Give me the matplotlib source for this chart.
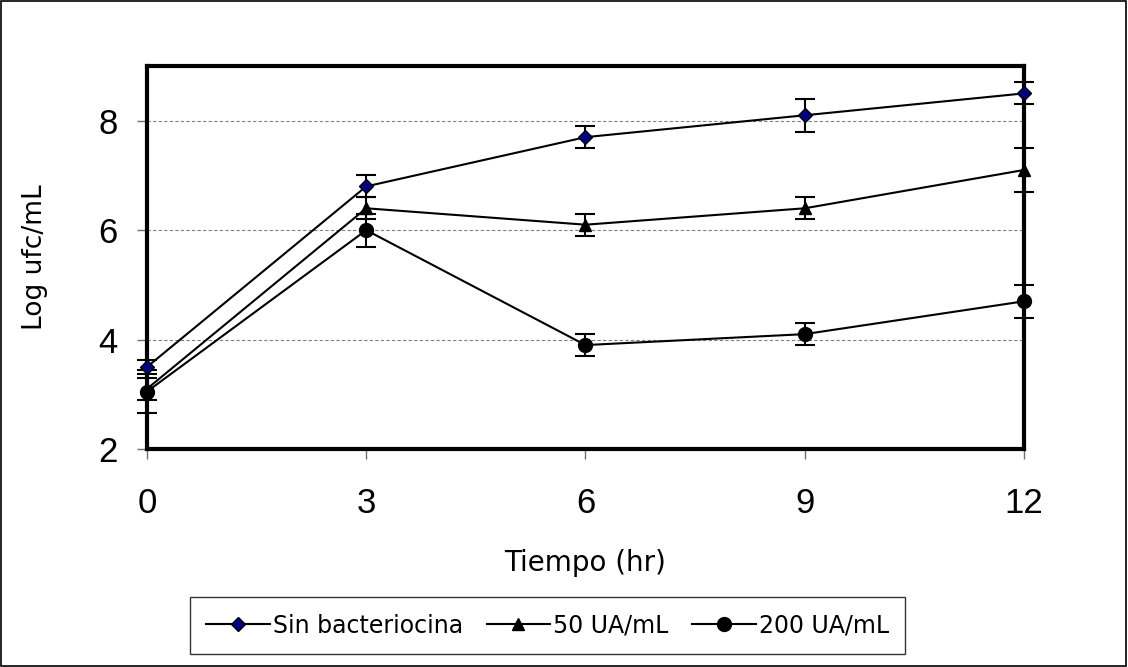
import numpy as np
import matplotlib.pyplot as plt
from matplotlib.patches import Rectangle
from matplotlib.lines import Line2D

# data
tiempo = [0, 3, 6, 9, 12]
sin_bact = [3.5, 6.8, 7.7, 8.1, 8.5]
sin_bact_err = [0.12, 0.2, 0.2, 0.3, 0.2]
ua50 = [3.1, 6.4, 6.1, 6.4, 7.1]
ua50_err = [0.2, 0.2, 0.2, 0.2, 0.4]
ua200 = [3.05, 6.0, 3.9, 4.1, 4.7]
ua200_err = [0.4, 0.3, 0.2, 0.2, 0.3]
labels = ['Sin bacteriocina', '50 UA/mL', '200 UA/mL']

fig = plt.figure(figsize=(11.28, 6.67), dpi=100)
ax = fig.add_axes([0.1303, 0.3268, 0.7775, 0.5742])

ax.yaxis.grid(True, linestyle=(0, (3, 2)), color='grey', linewidth=0.8)
ax.set_axisbelow(True)

series = [(sin_bact, sin_bact_err, 'D', '#000080', 7),
          (ua50, ua50_err, '^', 'black', 8.5),
          (ua200, ua200_err, 'o', 'black', 10)]
handles = []
for (y, e, m, fc, ms), lab in zip(series, labels):
    ax.errorbar(tiempo, y, yerr=e, marker=m, markersize=ms, color='black',
                markerfacecolor=fc, markeredgecolor='black', linewidth=1.5,
                elinewidth=1.5, capsize=7, capthick=1.5,
                clip_on=False, zorder=3)
    handles.append(Line2D([], [], marker=m, markersize=ms, color='black',
                          markerfacecolor=fc, markeredgecolor='black',
                          linewidth=1.5, label=lab))

ax.set_xlim(0, 12)
ax.set_ylim(2, 9)
ax.set_xticks(tiempo)
ax.set_yticks([2, 4, 6, 8])
ax.tick_params(length=7, width=1, color='#707070', direction='out')
ax.tick_params(axis='x', pad=20)
ax.tick_params(axis='y', pad=14)
for lbl in ax.get_xticklabels() + ax.get_yticklabels():
    lbl.set_fontfamily('Liberation Sans')
    lbl.set_fontsize(25)
for s in ax.spines.values():
    s.set_linewidth(3)

ax.set_xlabel('Tiempo (hr)', fontsize=20, labelpad=21)
ax.set_ylabel('Log ufc/mL', fontsize=19, labelpad=36)

leg = fig.legend(handles=handles, loc='center', bbox_to_anchor=(0.4854, 0.062),
                 ncol=3, fontsize=17, frameon=True, fancybox=False,
                 edgecolor='black', handlelength=2.7, columnspacing=1.0,
                 borderpad=0.7, handletextpad=0.12, borderaxespad=0)
leg.get_frame().set_linewidth(1.0)

fig.add_artist(Rectangle((0.001, 0.001), 0.997, 0.997, transform=fig.transFigure,
                         fill=False, edgecolor='black', linewidth=1.2))

fig.savefig('out.png', dpi=100)
